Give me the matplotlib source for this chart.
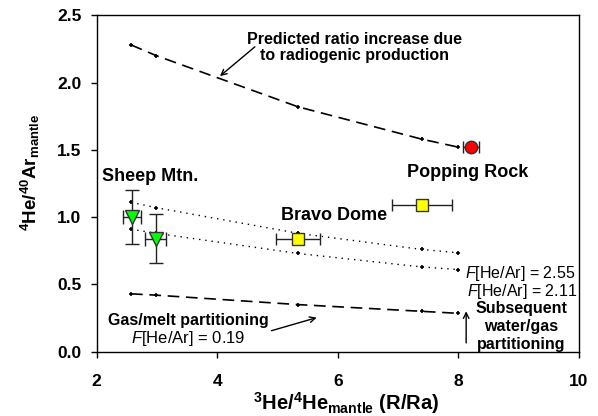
import matplotlib
matplotlib.use("Agg")
import matplotlib.pyplot as plt
from matplotlib.ticker import FormatStrFormatter

plt.rcParams["font.family"] = ["Liberation Sans", "DejaVu Sans"]
plt.rcParams["mathtext.fontset"] = "custom"
plt.rcParams["mathtext.rm"] = "Liberation Sans"
plt.rcParams["mathtext.bf"] = "Liberation Sans:bold"
plt.rcParams["mathtext.it"] = "Liberation Sans:italic"

# model curves (x positions shared)
curve_x = [2.57, 2.99, 5.34, 7.39, 8.0]
radiogenic_y = [2.28, 2.20, 1.82, 1.58, 1.52]
f255_y = [1.11, 1.07, 0.88, 0.76, 0.735]
f211_y = [0.91, 0.88, 0.73, 0.63, 0.61]
f019_y = [0.43, 0.42, 0.35, 0.30, 0.285]

# samples
sheep_x = [2.58, 2.98]
sheep_y = [1.0, 0.84]
sheep_xerr = [0.15, 0.175]
sheep_yerr = [0.2, 0.18]

bravo_x = [5.34, 7.40]
bravo_y = [0.84, 1.09]
bravo_xerr = [0.36, 0.5]

popping_x = [8.21]
popping_y = [1.52]
popping_xerr = [0.14]

fig = plt.figure(figsize=(5.98, 4.16), dpi=100)
ax = fig.add_axes([0.1617, 0.1546, 0.8063, 0.8086])

ax.plot(curve_x, radiogenic_y, color="black", lw=1.2, dashes=(7, 4),
        marker="+", ms=3, mew=1.2)
ax.plot(curve_x, f255_y, color="black", lw=1.0, dashes=(1, 3.5),
        marker="+", ms=3, mew=1.2)
ax.plot(curve_x, f211_y, color="black", lw=1.0, dashes=(1, 3.5),
        marker="+", ms=3, mew=1.2)
ax.plot(curve_x, f019_y, color="black", lw=1.2, dashes=(7, 4),
        marker="+", ms=3, mew=1.2)

ax.errorbar(sheep_x, sheep_y, xerr=sheep_xerr, yerr=sheep_yerr, fmt="v",
            color="#00ff00", mec="#333333", ms=10, ecolor="#222222",
            elinewidth=1.0, capsize=5, capthick=1.0, zorder=5)
ax.errorbar(bravo_x, bravo_y, xerr=bravo_xerr, fmt="s",
            color="#ffff00", mec="#333333", ms=8, ecolor="#222222",
            elinewidth=1.0, capsize=4, capthick=1.0, zorder=5)
ax.errorbar(popping_x, popping_y, xerr=popping_xerr, fmt="o",
            color="#ff0000", mec="#333333", ms=9, ecolor="#222222",
            elinewidth=1.0, capsize=4, capthick=1.0, zorder=5)

ax.set_xlim(2, 10)
ax.set_ylim(0, 2.5)
ax.set_xticks([2, 4, 6, 8, 10])
ax.set_yticks([0, 0.5, 1.0, 1.5, 2.0, 2.5])
ax.yaxis.set_major_formatter(FormatStrFormatter("%.1f"))
ax.tick_params(labelsize=12.5, direction="out", length=4, width=1)
ax.tick_params(axis="x", pad=12)
ax.tick_params(axis="y", pad=7)
plt.setp(ax.get_xticklabels(), fontweight="bold")
plt.setp(ax.get_yticklabels(), fontweight="bold")
for s in ax.spines.values():
    s.set_linewidth(1.0)

ax.set_xlabel(r"$\mathbf{^{3}He/^{4}He_{mantle}}$ (R/Ra)", fontsize=14.5,
              fontweight="bold")
ax.xaxis.set_label_coords(0.518, -0.115)
ax.set_ylabel(r"$\mathbf{^{4}He/^{40}Ar_{mantle}}$", fontsize=13.5)
ax.yaxis.set_label_coords(-0.113, 0.534)

ax.text(2.88, 1.27, "Sheep Mtn.", fontsize=13, fontweight="bold", ha="center")
ax.text(5.94, 0.98, "Bravo Dome", fontsize=13, fontweight="bold", ha="center")
ax.text(8.15, 1.30, "Popping Rock", fontsize=13, fontweight="bold", ha="center")

ax.text(6.27, 2.26, "Predicted ratio increase due\nto radiogenic production",
        fontsize=11.5, fontweight="bold", ha="center", va="center",
        linespacing=1.05)
ax.annotate("", xy=(4.045, 2.048), xytext=(4.625, 2.266),
            arrowprops=dict(arrowstyle="->", color="black", lw=1,
                            shrinkA=0, shrinkB=0))

ax.text(3.52, 0.23, "Gas/melt partitioning", fontsize=11.5,
        fontweight="bold", ha="center", va="center")
ax.annotate("", xy=(5.65, 0.253), xytext=(4.90, 0.156),
            arrowprops=dict(arrowstyle="->", color="black", lw=1,
                            shrinkA=0, shrinkB=0))
ax.text(3.52, 0.10, r"$\mathit{F}$[He/Ar] = 0.19", fontsize=12,
        ha="center", va="center")

ax.annotate("", xy=(8.13, 0.30), xytext=(8.13, 0.065),
            arrowprops=dict(arrowstyle="->", color="black", lw=1,
                            shrinkA=0, shrinkB=0))
ax.text(9.05, 0.19, "Subsequent\nwater/gas\npartitioning", fontsize=11.5,
        fontweight="bold", ha="center", va="center", linespacing=1.25)

ax.text(8.11, 0.58, r"$\mathit{F}$[He/Ar] = 2.55", fontsize=11.5,
        ha="left", va="center")
ax.text(8.14, 0.45, r"$\mathit{F}$[He/Ar] = 2.11", fontsize=11.5,
        ha="left", va="center")

fig.savefig("out.png", dpi=100)
